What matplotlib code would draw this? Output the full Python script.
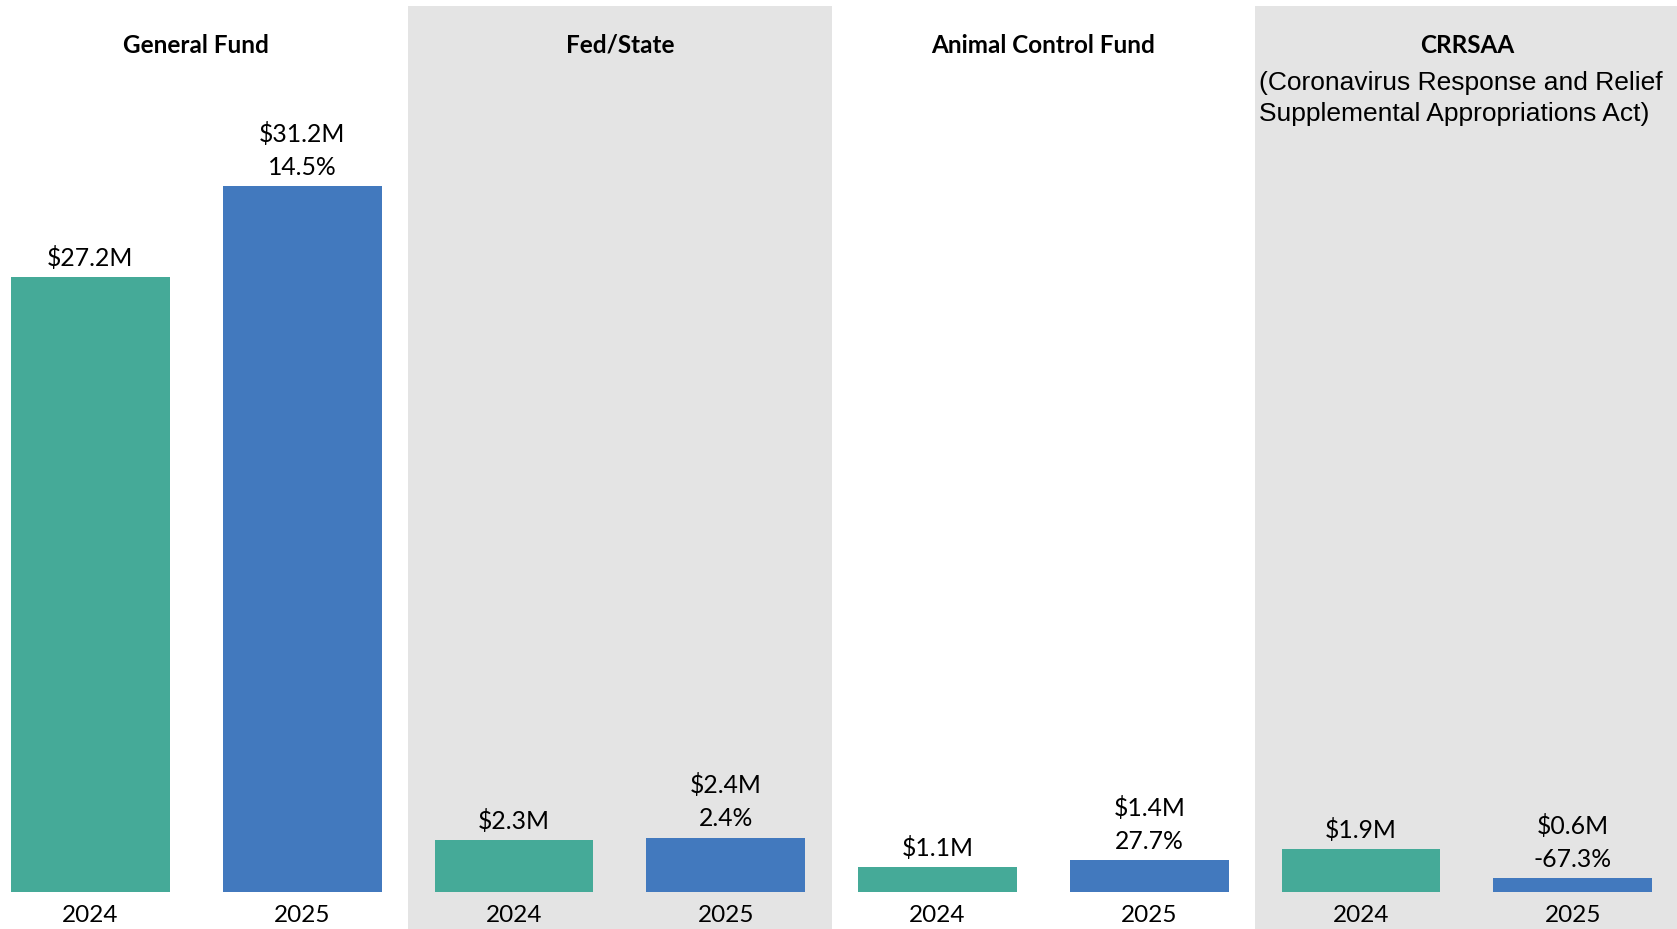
import matplotlib.pyplot as plt
import numpy as np

# data
funds = ['General Fund', 'Fed/State', 'Animal Control Fund', 'CRRSAA']
subtitle = ['(Coronavirus Response and Relief', 'Supplemental Appropriations Act)']
years = ['2024', '2025']
fy2024 = [27.2, 2.3, 1.1, 1.9]
fy2025 = [31.2, 2.4, 1.4, 0.6]
pct_change = [14.5, 2.4, 27.7, -67.3]

teal = '#45AA98'
blue = '#4279BE'
gray = '#E4E4E4'

plt.rcParams['font.family'] = ['Lato', 'DejaVu Sans']

fig = plt.figure(figsize=(16.77, 9.295), dpi=100)
ax = fig.add_axes([0, 37 / 929, 1, (892 - 6.4) / 929])

n = len(funds)
x24 = np.arange(n) * 2
x25 = x24 + 1

# grey background behind every second fund
for p in range(n):
    if p % 2 == 1:
        ax.axvspan(2 * p - 0.5, 2 * p + 1.5, ymin=-0.05, ymax=1,
                   color=gray, lw=0, clip_on=False, zorder=0)

b1 = ax.bar(x24, fy2024, width=0.75, color=teal, zorder=2)
b2 = ax.bar(x25, fy2025, width=0.75, color=blue, zorder=2)

# value labels
for i in range(n):
    ax.annotate(f'${fy2024[i]:.1f}M', (x24[i], fy2024[i]), xytext=(0, 14),
                textcoords='offset points', ha='center', va='center', fontsize=17.8)
    ax.annotate(f'{pct_change[i]:.1f}%', (x25[i], fy2025[i]), xytext=(0, 14),
                textcoords='offset points', ha='center', va='center', fontsize=17.8)
    ax.annotate(f'${fy2025[i]:.1f}M', (x25[i], fy2025[i]), xytext=(0, 38),
                textcoords='offset points', ha='center', va='center', fontsize=17.8)

# fund titles
trans = ax.get_xaxis_transform()
for i, f in enumerate(funds):
    ax.text(x24[i] + 0.5, 1 - 39 / 886, f, transform=trans,
            ha='center', va='center', fontsize=17.5, fontweight='bold')
for k, line in enumerate(subtitle):
    ax.text(x24[-1] - 0.48, 1 - (77 + 31 * k) / 886, line, transform=trans,
            ha='left', va='center', fontsize=19, family='Liberation Sans')

ax.set_xlim(-0.427, 7.492)
ax.set_ylim(0, (892 - 6.4) / 22.6)
ax.set_xticks(np.concatenate([x24, x25]))
ax.set_xticklabels(years[0:1] * n + years[1:2] * n, fontsize=17.5)
ax.tick_params(axis='x', length=0, pad=9)
ax.set_yticks([])
for s in ax.spines.values():
    s.set_visible(False)
ax.patch.set_alpha(0)

fig.savefig('out.png', dpi=100)
